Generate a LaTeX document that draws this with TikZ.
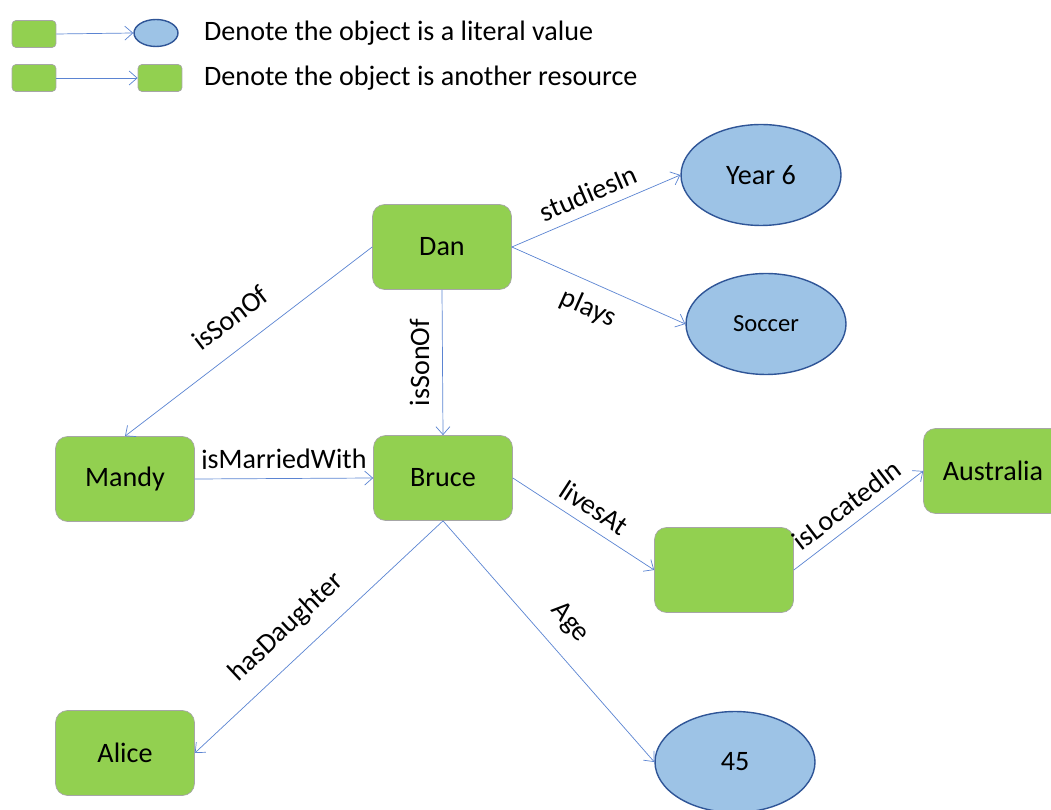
\documentclass[tikz,border=0pt]{standalone}
\usepackage{fontspec}
\setmainfont{Carlito}
\usetikzlibrary{shapes.geometric, arrows.meta}
\definecolor{resgreen}{HTML}{92D050}
\definecolor{resline}{HTML}{A6A6A6}
\definecolor{litblue}{HTML}{9DC3E6}
\definecolor{litline}{HTML}{2F5597}
\definecolor{arcblue}{HTML}{5B84D2}

\begin{document}
\begin{tikzpicture}[x=0.02cm, y=-0.02cm,
  font=\fontsize{16}{19}\selectfont,
  res/.style={draw=resline, fill=resgreen, rectangle, rounded corners=0.24cm, minimum width=2.78cm, minimum height=1.7cm},
  lit/.style={draw=litline, thick, fill=litblue, ellipse, minimum width=3.2cm, minimum height=2.02cm},
  smallres/.style={draw=resline, fill=resgreen, rectangle, rounded corners=0.08cm, minimum width=0.88cm, minimum height=0.54cm},
  smalllit/.style={draw=litline, thick, fill=litblue, ellipse, minimum width=0.88cm, minimum height=0.54cm, inner sep=0pt},
  link/.style={-{Straight Barb[length=1.6mm, width=2.8mm]}, draw=arcblue, thin},
  lbl/.style={midway, sloped, above=2pt}]
\useasboundingbox (0,0) rectangle (1051,810);
\clip (0,0) rectangle (1051,810);
% legend
\node[smallres] (K1) at (34,34) {};
\node[smalllit] (K2) at (156,33) {};
\draw[link] (K1.east) -- (K2.west);
\node[anchor=west] (T1) at (198,33) {Denote the object is a literal value};
\node[smallres] (K3) at (34,78) {};
\node[smallres] (K4) at (160,78) {};
\draw[link] (K3.east) -- (K4.west);
\node[anchor=west] (T2) at (198,78) {Denote the object is another resource};
% resources
\node[res] (Dan) at (442,247) {Dan};
\node[res] (Mandy) at (125,479) {Mandy};
\node[res] (Bruce) at (443,478) {Bruce};
\node[res] (Addr) at (724,570) {};
\node[res] (Aus) at (993,471) {Australia};
\node[res] (Alice) at (125,753) {Alice};
% literals
\node[lit] (Year) at (761,175) {Year 6};
\node[lit, font=\fontsize{14}{17}\selectfont] (Soccer) at (766,324) {Soccer};
\node[lit] (Age) at (735,762) {45};
% properties
\draw[link] (Dan.west) -- (Mandy.north) node[lbl, above=6pt] {isSonOf};
\draw[link] (Dan.south) -- (Bruce.north) node[midway, rotate=90, above=4pt] {isSonOf};
\draw[link] (Dan.east) -- (Year.west) node[lbl] {studiesIn};
\draw[link] (Dan.east) -- (Soccer.west) node[midway, sloped, below=4pt] {plays};
\draw[link] (Mandy.east) -- (Bruce.west) node[lbl] {isMarriedWith};
\draw[link] (Bruce.east) -- (Addr.west) node[lbl] {livesAt};
\draw[link] (Addr.east) -- (Aus.west) node[lbl] {isLocatedIn};
\draw[link] (Bruce.south) -- (Alice.east) node[lbl, pos=0.55, above=4pt] {hasDaughter};
\draw[link] (Bruce.south) -- (Age.west) node[lbl, pos=0.5, above=4pt] {Age};
\end{tikzpicture}
\end{document}
